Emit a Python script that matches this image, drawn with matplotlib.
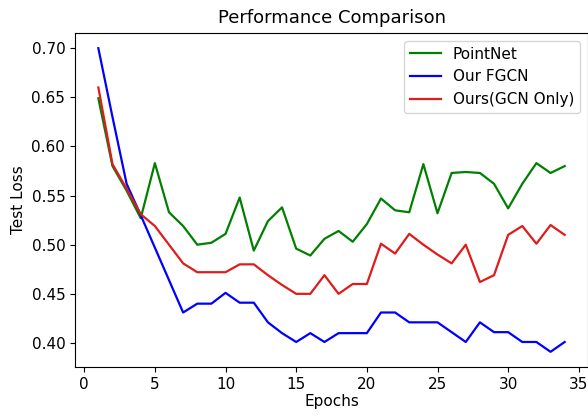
import matplotlib
matplotlib.use('Agg')
import matplotlib.pyplot as plt

epochs = list(range(1, 35))

pointnet = [0.649, 0.580, 0.555, 0.527, 0.583, 0.533, 0.519, 0.500, 0.502, 0.511,
            0.548, 0.494, 0.524, 0.538, 0.496, 0.489, 0.506, 0.514, 0.503, 0.521,
            0.547, 0.535, 0.533, 0.582, 0.532, 0.573, 0.574, 0.573, 0.562, 0.537,
            0.562, 0.583, 0.573, 0.580]

our_fgcn = [0.700, 0.630, 0.562, 0.530, 0.497, 0.464, 0.431, 0.440, 0.440, 0.451,
            0.441, 0.441, 0.421, 0.410, 0.401, 0.410, 0.401, 0.410, 0.410, 0.410,
            0.431, 0.431, 0.421, 0.421, 0.421, 0.411, 0.401, 0.421, 0.411, 0.411,
            0.401, 0.401, 0.391, 0.401]

gcn_only = [0.660, 0.582, 0.557, 0.531, 0.519, 0.500, 0.481, 0.472, 0.472, 0.472,
            0.480, 0.480, 0.469, 0.459, 0.450, 0.450, 0.469, 0.450, 0.460, 0.460,
            0.501, 0.491, 0.511, 0.500, 0.490, 0.481, 0.500, 0.462, 0.469, 0.510,
            0.519, 0.501, 0.520, 0.510]

fig = plt.figure(figsize=(5.88, 4.16), dpi=100)
ax = fig.add_axes([0.1276, 0.1178, 0.8724, 0.8029])

ax.plot(epochs, pointnet, color='green', linewidth=1.6, label='PointNet')
ax.plot(epochs, our_fgcn, color='blue', linewidth=1.6, label='Our FGCN')
ax.plot(epochs, gcn_only, color='#e01b1b', linewidth=1.6, label='Ours(GCN Only)')

ax.set_title('Performance Comparison', fontsize=13, pad=7)
ax.set_xlabel('Epochs', fontsize=11, labelpad=2)
ax.set_ylabel('Test Loss', fontsize=11)
ax.set_xticks([0, 5, 10, 15, 20, 25, 30, 35])
ax.tick_params(labelsize=11)
ax.legend(loc='upper right', fontsize=11)

fig.savefig('out.png', dpi=100)
